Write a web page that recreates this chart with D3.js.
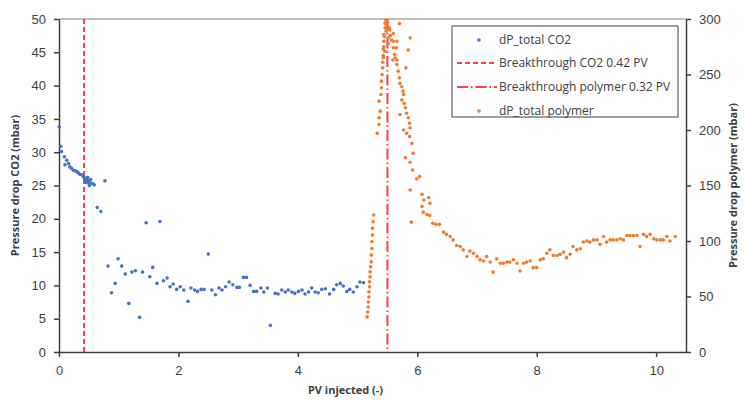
<!DOCTYPE html>
<html lang="en">
<head>
    <meta charset="UTF-8">
    <title>Pressure drop CO2 / polymer</title>
    <script src="https://d3js.org/d3.v7.min.js"></script>
    <style>
        body { margin: 0; background: #fff; }
        svg { font-family: "Open Sans", "DejaVu Sans", sans-serif; }
        .tick text { fill: #404040; font-size: 13px; }
        .axis path, .axis line { stroke: #404040; stroke-width: 1.5; }
        .label { fill: #404040; font-size: 11px; font-weight: bold; }
        .legend text { fill: #404040; font-size: 12px; }
    </style>
</head>
<body>
<svg width="745" height="400"></svg>
<script>
    // data
    let co2X = [0.005,0.03,0.04,0.09,0.10,0.13,0.16,0.18,0.21,0.24,0.27,0.30,0.32,0.35,0.38,0.41,0.44,0.46,0.49,0.52,
        0.56,0.59,0.64,0.70,0.77,0.82,0.88,0.94,0.99,1.05,1.11,1.17,1.22,1.28,1.35,1.40,1.46,1.52,1.57,1.64,
        1.69,1.75,1.81,1.86,1.91,1.97,2.03,2.09,2.16,2.21,2.27,2.32,2.38,2.43,2.50,2.56,2.62,2.68,2.73,2.79,
        2.85,2.91,2.98,3.02,3.09,3.14,3.20,3.26,3.31,3.38,3.43,3.49,3.54,3.62,3.67,3.73,3.79,3.84,3.90,3.95,
        4.01,4.07,4.12,4.18,4.23,4.29,4.34,4.40,4.46,4.53,4.60,4.65,4.71,4.76,4.82,4.87,4.93,4.99,5.04,5.10,
        0.43,0.47,0.50,0.53,0.48,0.51,0.45];
    let co2Y = [33.8,30.9,30.1,29.3,28.1,28.8,28.3,27.8,27.6,27.3,27.2,27.1,26.9,26.7,26.6,26.3,26.1,25.8,25.7,25.4,
        25.3,25.1,21.7,21.1,25.7,12.9,8.9,10.3,14.0,12.9,11.7,7.3,12.0,12.2,5.2,12.0,19.4,11.3,12.7,10.3,
        19.6,10.7,11.1,9.8,10.2,9.4,9.8,9.3,7.6,9.6,9.3,9.1,9.4,9.4,14.7,9.3,8.6,9.6,9.3,9.8,
        10.5,10.1,9.7,9.7,11.2,11.2,10.0,9.1,9.1,9.6,9.0,9.6,4.0,8.8,8.7,9.3,9.0,9.3,9.0,8.8,
        9.1,9.3,8.7,9.0,9.6,9.0,8.9,9.4,9.5,8.7,9.4,10.1,10.3,9.9,9.1,9.4,9.0,9.8,10.5,10.4,
        26.0,25.6,25.3,25.9,26.2,25.0,25.5];

    let polyX = [5.16,5.17,5.18,5.18,5.19,5.19,5.20,5.20,5.21,5.21,5.22,5.23,5.23,5.24,5.24,5.25,5.25,5.26,5.27,
        5.33,5.36,5.36,5.38,5.36,5.39,5.40,5.40,5.41,5.42,5.42,5.43,5.43,5.44,5.44,5.46,5.46,
        5.49,5.54,5.60,5.52,5.57,5.60,5.44,5.46,5.43,5.66,5.65,5.62,5.59,5.66,5.47,5.50,5.48,5.53,5.55,5.51,5.45,5.70,5.88,5.85,5.81,
        5.60,5.63,5.66,5.68,5.70,5.71,5.74,5.76,5.77,5.74,5.78,5.80,5.82,5.71,5.85,5.87,5.88,5.82,5.87,5.77,
        5.80,5.91,5.93,5.88,5.92,5.99,6.04,5.88,5.90,6.08,6.11,6.19,6.21,6.08,6.10,6.16,6.21,6.26,6.31,6.37,
        6.44,6.49,6.55,6.60,6.66,6.72,6.77,6.83,6.88,6.94,7.00,7.05,7.11,7.16,
        7.22,7.27,7.33,7.39,7.44,7.50,7.55,7.61,7.67,7.72,7.78,7.83,7.89,7.94,
        8.00,8.06,8.11,8.17,8.22,8.28,8.34,8.39,8.45,8.50,8.56,8.61,8.67,8.73,
        8.78,8.84,8.89,8.95,9.01,9.06,9.12,9.17,9.23,9.28,9.34,9.40,9.45,
        9.51,9.56,9.62,9.68,9.73,9.79,9.84,9.90,9.96,10.01,10.07,10.12,10.18,10.23,10.32];
    let polyY = [31.6,36.1,40.6,45.1,49.6,54.2,58.7,63.2,67.7,72.2,76.7,81.2,87.3,93.3,99.3,105.3,111.4,117.3,123.4,
        197,205,211,217,226,232,238,244,250,256,261,267,273,280,286,292,296,
        295,290,287,283,281,280,275,271,265,280,274,268,263,263,299,297,289,292,285,278,284,296,283,272,256,
        274,265,259,253,247,242,239,235,232,227,224,220,215,214,211,206,202,197,194,200,
        175,188,179,171,164,156,158,146,117,142,137,139,134,131,126,124,123,116,115,115,
        108,106,104,101,96,95,92,86,91,89,86,83,82,86,
        81,72,84,80,80,81,81,83,80,73,80,81,82,76,
        76,83,84,89,92,87,87,88,90,85,88,95,92,93,
        99,100,99,101,101,97,104,99,101,101,101,102,101,
        105,105,105,105,95,106,104,106,102,101,101,101,104,100,104];

    let breakCO2 = 0.42;
    let breakPolymer = 5.5;
    let xTicks = [0, 2, 4, 6, 8, 10];
    let yLeftTicks = [0, 5, 10, 15, 20, 25, 30, 35, 40, 45, 50];
    let yRightTicks = [0, 50, 100, 150, 200, 250, 300];
    let legendNames = ['dP_total CO2', 'Breakthrough CO2 0.42 PV', 'Breakthrough polymer 0.32 PV', 'dP_total polymer'];

    let blue = '#4472c4', orange = '#ed7d31', red = '#ff3b4e';

    let svg = d3.select('svg');
    let mLeft = 59, mRight = 686, mTop = 19, mBottom = 352;

    let x = d3.scaleLinear().domain([0, 10.5]).range([mLeft, mRight]);
    let yL = d3.scaleLinear().domain([0, 50]).range([mBottom, mTop]);
    let yR = d3.scaleLinear().domain([0, 300]).range([mBottom, mTop]);

    // top border of plot area
    svg.append('line').attr('x1', mLeft).attr('x2', mRight).attr('y1', mTop).attr('y2', mTop)
        .attr('stroke', '#808080').attr('stroke-width', 1.2);

    svg.append('g').attr('class', 'axis').attr('transform', 'translate(0,' + mBottom + ')')
        .call(d3.axisBottom(x).tickValues(xTicks).tickSize(5).tickSizeOuter(0).tickPadding(9));
    svg.append('g').attr('class', 'axis').attr('transform', 'translate(' + mLeft + ',0)')
        .call(d3.axisLeft(yL).tickValues(yLeftTicks).tickSize(5).tickSizeOuter(0).tickPadding(8));
    svg.append('g').attr('class', 'axis').attr('transform', 'translate(' + mRight + ',0)')
        .call(d3.axisRight(yR).tickValues(yRightTicks).tickSize(5).tickSizeOuter(0).tickPadding(8));

    // breakthrough lines
    svg.append('line').attr('x1', x(breakCO2)).attr('x2', x(breakCO2)).attr('y1', mTop).attr('y2', mBottom)
        .attr('stroke', red).attr('stroke-width', 2).attr('stroke-dasharray', '5,3');
    svg.append('line').attr('x1', x(breakPolymer)).attr('x2', x(breakPolymer)).attr('y1', mTop).attr('y2', mBottom)
        .attr('stroke', red).attr('stroke-width', 2).attr('stroke-dasharray', '11,3,1.5,3');

    // scatter points
    svg.append('g').selectAll('circle').data(d3.range(co2X.length)).enter().append('circle')
        .attr('cx', i => x(co2X[i])).attr('cy', i => yL(co2Y[i])).attr('r', 1.8).attr('fill', blue);
    svg.append('g').selectAll('circle').data(d3.range(polyX.length)).enter().append('circle')
        .attr('cx', i => x(polyX[i])).attr('cy', i => yR(polyY[i])).attr('r', 1.8).attr('fill', orange);

    // axis titles
    svg.append('text').attr('class', 'label').attr('text-anchor', 'middle')
        .attr('x', (mLeft + mRight) / 2 - 27).attr('y', 394).text('PV injected (-)');
    svg.append('text').attr('class', 'label').attr('text-anchor', 'middle')
        .attr('transform', 'translate(19,' + (mTop + mBottom) / 2 + ') rotate(-90)').text('Pressure drop CO2 (mbar)');
    svg.append('text').attr('class', 'label').attr('text-anchor', 'middle')
        .attr('transform', 'translate(737,' + (mTop + mBottom) / 2 + ') rotate(-90)').text('Pressure drop polymer (mbar)');

    // legend
    let lg = svg.append('g').attr('class', 'legend');
    lg.append('rect').attr('x', 452).attr('y', 26).attr('width', 226).attr('height', 91)
        .attr('fill', '#fff').attr('stroke', '#404040').attr('stroke-width', 1);
    let rowY = [40, 63, 87, 111];
    lg.selectAll('text').data(legendNames).enter().append('text')
        .attr('x', 499).attr('y', (d, i) => rowY[i] + 4).text(d => d);
    lg.append('circle').attr('cx', 479).attr('cy', rowY[0]).attr('r', 1.8).attr('fill', blue);
    lg.append('circle').attr('cx', 479).attr('cy', rowY[3]).attr('r', 1.8).attr('fill', orange);
    lg.append('line').attr('x1', 457).attr('x2', 497).attr('y1', rowY[1]).attr('y2', rowY[1])
        .attr('stroke', red).attr('stroke-width', 2).attr('stroke-dasharray', '5,3');
    lg.append('line').attr('x1', 457).attr('x2', 497).attr('y1', rowY[2]).attr('y2', rowY[2])
        .attr('stroke', red).attr('stroke-width', 2).attr('stroke-dasharray', '11,3,1.5,3');
</script>
</body>
</html>
